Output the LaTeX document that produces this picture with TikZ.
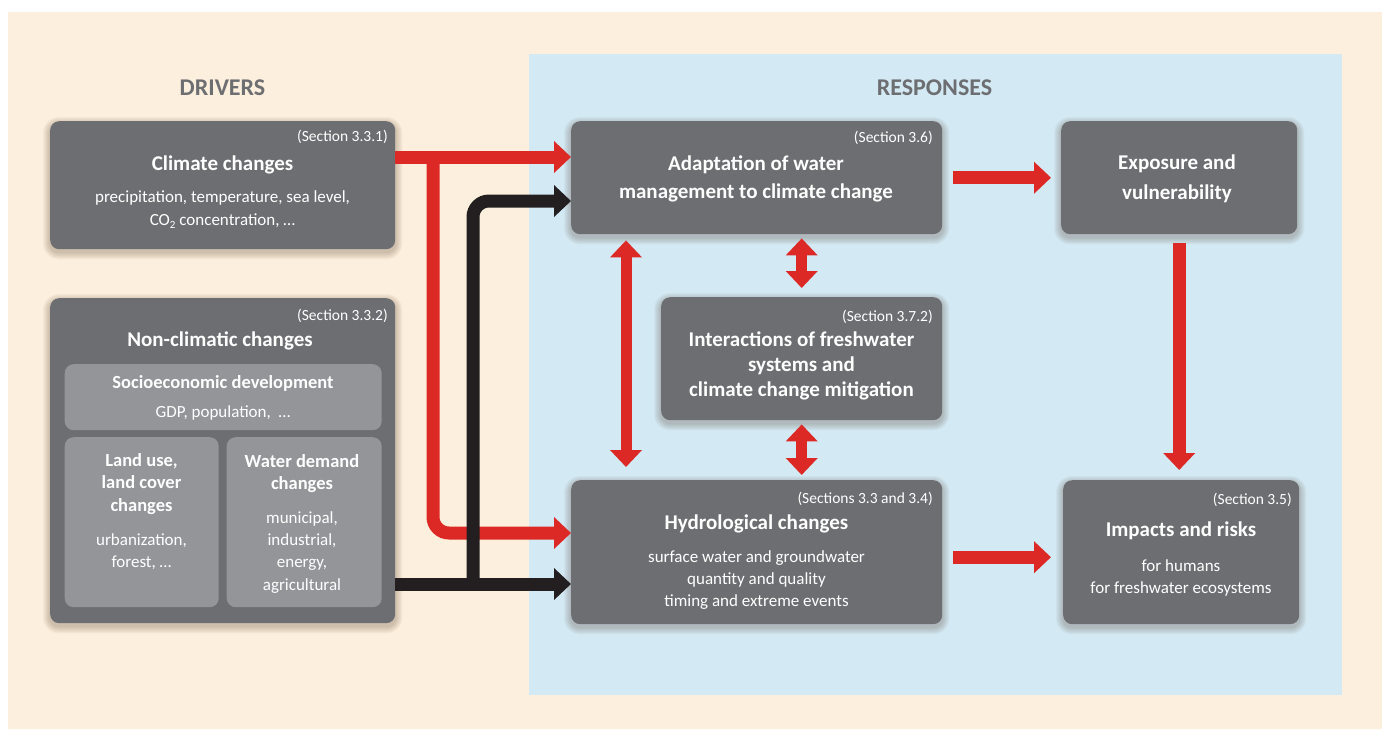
\documentclass[tikz,border=0pt]{standalone}
\usepackage{fontspec}
\setmainfont{Carlito}
\usetikzlibrary{arrows.meta,calc}
\pgfdeclarelayer{bglayer}
\pgfdeclarelayer{shadowlayer}
\pgfsetlayers{bglayer,shadowlayer,main}
\definecolor{beige}{RGB}{253,239,221}
\definecolor{paleblue}{RGB}{211,233,244}
\definecolor{boxgray}{RGB}{109,110,113}
\definecolor{subgray}{RGB}{147,149,152}
\definecolor{arrred}{RGB}{221,41,38}
\definecolor{arrblack}{RGB}{35,31,32}
\definecolor{hdrgray}{RGB}{109,110,113}
\definecolor{shadowcol}{RGB}{90,70,50}
\tikzset{
  box/.style={fill=boxgray, rounded corners=9pt, anchor=north west, inner sep=0pt},
  subbox/.style={fill=subgray, rounded corners=9pt, anchor=north west, inner sep=0pt},
  hdr/.style={font=\fontsize{24}{28}\selectfont\bfseries, text=hdrgray, anchor=base, inner sep=0pt},
  sec/.style={font=\fontsize{15.5}{18}\selectfont, text=white, anchor=base east, inner sep=0pt},
  ttl/.style={font=\fontsize{21}{25}\selectfont\bfseries, text=white, anchor=base, inner sep=0pt},
  subttl/.style={font=\fontsize{18.5}{22}\selectfont\bfseries, text=white, anchor=base, inner sep=0pt},
  bdy/.style={font=\fontsize{17}{20}\selectfont, text=white, anchor=base, inner sep=0pt},
  bigtip/.tip={Triangle[width=31pt,length=17pt]},
  redline/.style={draw=arrred, line width=13pt},
  blackline/.style={draw=arrblack, line width=13pt},
  dblline/.style={draw=arrred, line width=11pt, {bigtip}-{bigtip}},
  shadowring/.style={fill=shadowcol, fill opacity=0.045},
}
\begin{document}
\begin{tikzpicture}[x=1pt,y=-1pt]
\useasboundingbox (0,0) rectangle (1382,729);
\begin{pgfonlayer}{bglayer}
\fill[beige] (8,12) rectangle (1382,729);
\fill[paleblue] (529,54) rectangle (1342,695);
\end{pgfonlayer}

% headers
\node[hdr] (hdrD) at (222.5,95) {DRIVERS};
\node[hdr] (hdrR) at (934.5,95) {RESPONSES};

% boxes
\node[box, minimum width=345, minimum height=128] (clim) at (50,121) {};
\node[box, minimum width=345, minimum height=325] (ncl) at (50,298) {};
\node[subbox, minimum width=317, minimum height=66] (socio) at (64.5,364) {};
\node[subbox, minimum width=154, minimum height=170] (land) at (64.5,437) {};
\node[subbox, minimum width=155, minimum height=170] (water) at (226.5,437) {};
\node[box, minimum width=371, minimum height=113] (adapt) at (571,121) {};
\node[box, minimum width=236, minimum height=113] (expo) at (1061,121) {};
\node[box, minimum width=281, minimum height=123] (inter) at (661,297) {};
\node[box, minimum width=371, minimum height=144] (hydro) at (571,480) {};
\node[box, minimum width=236, minimum height=144] (imp) at (1063,480) {};

% soft shadows behind the boxes
\begin{pgfonlayer}{shadowlayer}
\foreach \n in {clim,ncl,adapt,expo,inter,hydro,imp}{
  \foreach \k in {1,...,7}{
    \pgfmathsetmacro{\rr}{9+\k}
    \fill[shadowring, rounded corners=\rr pt]
      ($(\n.north west)+(-\k,-\k+3)$) rectangle ($(\n.south east)+(\k,\k+3)$);
  }
}
\end{pgfonlayer}

% climate changes
\node[sec] (s1) at (388,141) {(Section 3.3.1)};
\node[ttl] (t1) at (222.5,170) {Climate changes};
\node[bdy] (b1a) at (222.5,202) {precipitation, temperature, sea level,};
\node[bdy] (b1b) at (222.5,225) {CO\raisebox{-3pt}{\fontsize{11}{11}\selectfont 2} concentration, …};

% non-climatic changes
\node[sec] (s2) at (388,320) {(Section 3.3.2)};
\node[ttl] (t2) at (220,346) {Non-climatic changes};
\node[subttl] (t3) at (223,388) {Socioeconomic development};
\node[bdy] (b3) at (223,417) {GDP, population, \ …};
\node[subttl] (t4a) at (141.5,466) {Land use,};
\node[subttl] (t4b) at (141.5,488) {land cover};
\node[subttl] (t4c) at (141.5,511) {changes};
\node[bdy] (b4a) at (141.5,545) {urbanization,};
\node[bdy] (b4b) at (141.5,567) {forest, …};
\node[subttl] (t5a) at (302,467) {Water demand};
\node[subttl] (t5b) at (302,489) {changes};
\node[bdy] (b5a) at (302,523) {municipal,};
\node[bdy] (b5b) at (302,545) {industrial,};
\node[bdy] (b5c) at (302,567) {energy,};
\node[bdy] (b5d) at (302,590) {agricultural};

% adaptation
\node[sec] (s6) at (933,142) {(Section 3.6)};
\node[ttl] (t6a) at (756,170) {Adaptation of water};
\node[ttl] (t6b) at (756,198) {management to climate change};

% exposure
\node[ttl] (t7a) at (1177,169) {Exposure and};
\node[ttl] (t7b) at (1177,199) {vulnerability};

% interactions
\node[sec] (s8) at (933,321) {(Section 3.7.2)};
\node[ttl] (t8a) at (801.5,346) {Interactions of freshwater};
\node[ttl] (t8b) at (801.5,371) {systems and};
\node[ttl] (t8c) at (801.5,396) {climate change mitigation};

% hydrological
\node[sec] (s9) at (933,503) {(Sections 3.3 and 3.4)};
\node[ttl] (t9) at (756.5,529) {Hydrological changes};
\node[bdy] (b9a) at (756.5,562) {surface water and groundwater};
\node[bdy] (b9b) at (756.5,584) {quantity and quality};
\node[bdy] (b9c) at (756.5,606) {timing and extreme events};

% impacts
\node[sec] (s10) at (1292,504) {(Section 3.5)};
\node[ttl] (t10) at (1181,536) {Impacts and risks};
\node[bdy] (b10a) at (1181,571) {for humans};
\node[bdy] (b10b) at (1181,593) {for freshwater ecosystems};

% connectors from drivers
\coordinate (rj) at (433,157);
\coordinate (bj) at (473,584);
\draw[redline, -{bigtip}] (clim.east |- rj) -- (adapt.west |- rj);
\draw[redline, rounded corners=16pt, -{bigtip}] (rj) -- (433,533) -- (hydro.west |- 0,533);
\draw[blackline, -{bigtip}] (ncl.east |- bj) -- (hydro.west |- bj);
\draw[blackline, rounded corners=16pt, -{bigtip}] (bj) -- (473,201) -- (adapt.west |- 0,201);

% responses connectors
\draw[redline, -{bigtip}] ($(adapt.east)+(11,0)$) -- ($(expo.west |- adapt.east)+(-10,0)$);
\draw[redline, -{bigtip}] ($(expo.south)+(0,9)$) -- ($(expo.south |- imp.north)+(0,-10)$);
\draw[redline, -{bigtip}] ($(hydro.east)+(11,5)$) -- ($(imp.west |- hydro.east)+(-12,5)$);
\draw[dblline] ($(adapt.south west)+(55,6)$) -- ($(hydro.north west)+(55,-13)$);
\draw[dblline] ($(adapt.south -| inter.north)+(0,4)$) -- ($(inter.north)+(0,-9)$);
\draw[dblline] ($(inter.south)+(0,4)$) -- ($(hydro.north -| inter.south)+(0,-5)$);
\end{tikzpicture}
\end{document}
